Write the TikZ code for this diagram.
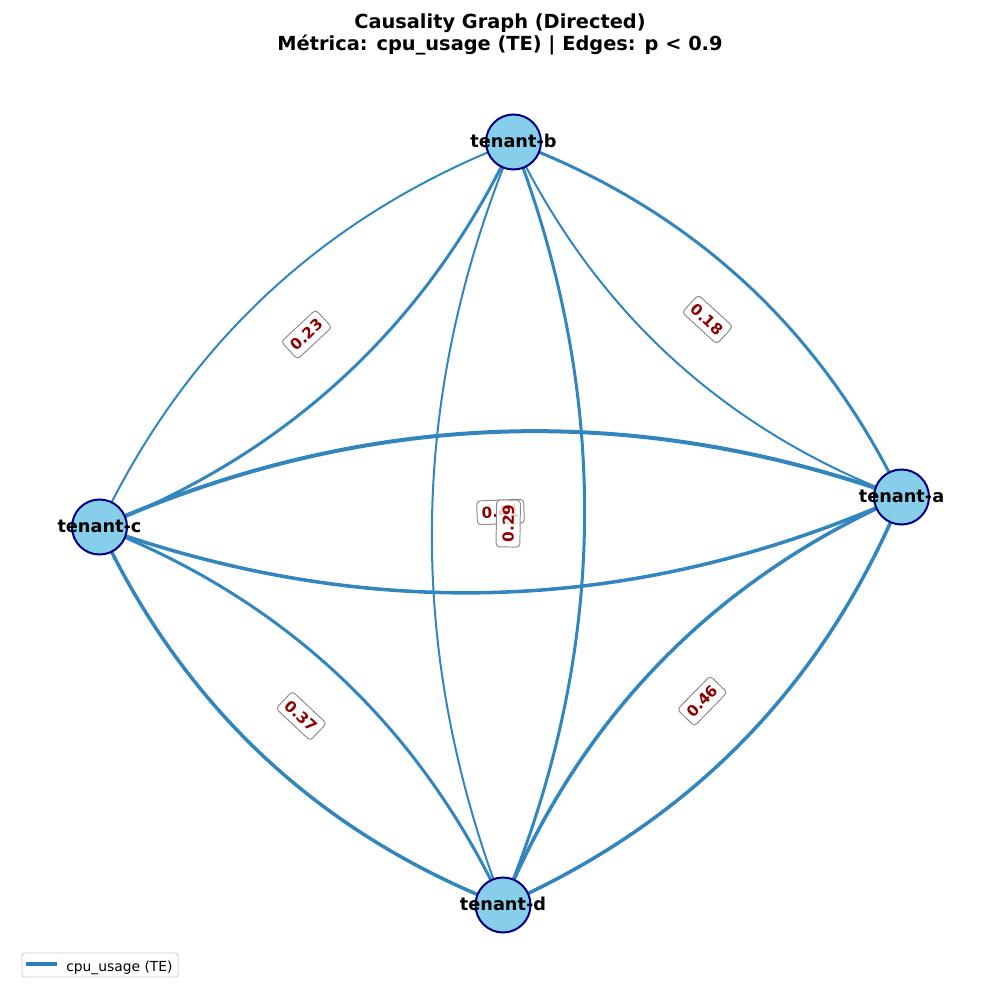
\documentclass[tikz,border=0pt]{standalone}
\usepackage{fontspec}
\setmainfont{DejaVu Sans}
\usetikzlibrary{backgrounds,calc}
\definecolor{edgeblue}{RGB}{50,134,189}
\definecolor{legblue}{RGB}{44,128,186}
\definecolor{nodefill}{HTML}{87CEEB}
\definecolor{nodeedge}{HTML}{000080}
\definecolor{lblred}{HTML}{8B0000}
\definecolor{lblgray}{RGB}{140,140,140}
\definecolor{leggray}{RGB}{204,204,204}
\begin{document}
\begin{tikzpicture}[x=0.254mm,y=0.254mm,
  tnode/.style={circle, fill=nodefill, draw=nodeedge, line width=1.45pt, minimum size=13.97mm, inner sep=0pt},
  nlabel/.style={font=\bfseries\fontsize{12.8}{15}\selectfont, anchor=base, inner sep=0pt},
  arcedge/.style={draw=edgeblue, bend right=21.8, looseness=0.917},
  wA/.style={line width=1.45pt},
  wB/.style={line width=2.17pt},
  wC/.style={line width=2.55pt},
  wD/.style={line width=2.9pt},
  elabel/.style={font=\bfseries\fontsize{11}{13}\selectfont, text=lblred, fill=white, draw=lblgray, line width=0.7pt, rounded corners=2.5pt, inner xsep=3.4pt, inner ysep=4.6pt, text height=8pt, text depth=0pt, sloped, midway},
  titlestyle/.style={font=\bfseries\fontsize{14}{17}\selectfont, anchor=base, inner sep=0pt}
]
\useasboundingbox (0,0) rectangle (1000,1000);

% title
\node[titlestyle] (t1) at (500,971) {Causality Graph (Directed)};
\node[titlestyle] (t2) at (500,949) {Métrica: cpu\_usage (TE) | Edges: p < 0.9};

% nodes
\node[tnode] (a) at (901.5,503) {};
\node[tnode] (b) at (513.5,858) {};
\node[tnode] (c) at (99.5,473) {};
\node[tnode] (d) at (503,95) {};

% edges
\begin{scope}[on background layer]
  \draw[arcedge, wA] (b.center) to (c.center);
  \draw[arcedge, wB] (c.center) to (b.center);
  \draw[arcedge, wA] (b.center) to (a.center);
  \draw[arcedge, wB] (a.center) to (b.center);
  \draw[arcedge, wC] (c.center) to (a.center);
  \draw[arcedge, wD] (a.center) to (c.center);
  \draw[arcedge, wA] (b.center) to (d.center);
  \draw[arcedge, wB] (d.center) to (b.center);
  \draw[arcedge, wC] (c.center) to (d.center);
  \draw[arcedge, wB] (d.center) to (c.center);
  \draw[arcedge, wC] (a.center) to (d.center);
  \draw[arcedge, wC] (d.center) to (a.center);
\end{scope}

% node labels
\node[nlabel] (at) at ($(a)+(0,-6)$) {tenant-a};
\node[nlabel] (bt) at ($(b)+(0,-6)$) {tenant-b};
\node[nlabel] (ct) at ($(c)+(0,-6)$) {tenant-c};
\node[nlabel] (dt) at ($(d)+(0,-6)$) {tenant-d};

% edge labels
\path (c.center) -- (b.center) node[elabel] (l1) {0.23};
\path (b.center) -- (a.center) node[elabel] (l2) {0.18};
\path (c.center) -- (d.center) node[elabel] (l3) {0.37};
\path (d.center) -- (a.center) node[elabel] (l4) {0.46};
\path (c.center) -- (a.center) node[elabel] (l5) {0.41};
\path (d.center) -- (b.center) node[elabel, fill opacity=0.8, text opacity=1] (l6) {0.29};

% legend
\draw[leggray, fill=white, line width=0.7pt, rounded corners=2pt] (22,23) rectangle (178,47);
\coordinate (ls) at (26,36);
\coordinate (le) at (57,36);
\draw[legblue, line width=2.9pt] (ls) -- (le);
\node[font=\fontsize{10}{12}\selectfont, anchor=base west, inner sep=0pt] (lt) at (66,28.5) {cpu\_usage (TE)};
\end{tikzpicture}
\end{document}
